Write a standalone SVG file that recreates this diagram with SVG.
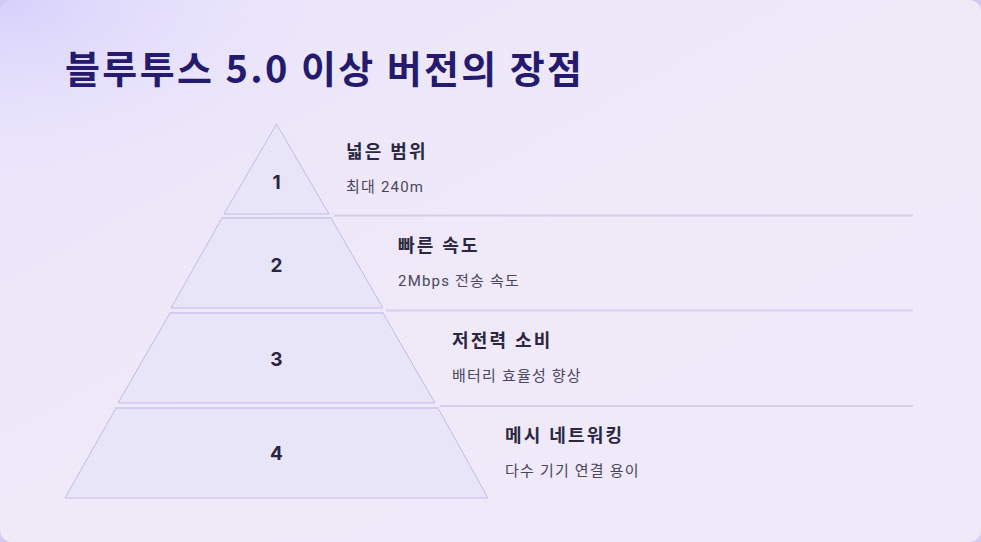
<svg xmlns="http://www.w3.org/2000/svg" width="981" height="542" viewBox="0 0 981 542">
<style>
.title{font-family:"Noto Sans CJK KR","Noto Sans",sans-serif;font-weight:700;font-size:38px;letter-spacing:2.4px;fill:#251b6e}
.tier{fill:#e8e5f8;stroke:#c3bde6;stroke-width:1}
.topline{stroke:#d4ccee;stroke-width:2}
.sep{stroke:#d6cef0;stroke-width:2}
.num{font-family:"Inter","Noto Sans",sans-serif;font-weight:700;font-size:19px;fill:#2a2542;text-anchor:middle}
.head{font-family:"Roboto","Noto Sans CJK KR",sans-serif;font-weight:700;font-size:18px;letter-spacing:2.2px;fill:#2b2740}
.sub{font-family:"Roboto","Noto Sans CJK KR",sans-serif;font-size:15px;letter-spacing:1.2px;fill:#4a4660}
</style>
<defs>
<linearGradient id="bg" x1="0" y1="0" x2="1" y2="1">
<stop offset="0" stop-color="#e9e4fc"/>
<stop offset="0.5" stop-color="#f0e9f8"/>
<stop offset="1" stop-color="#efe9fa"/>
</linearGradient>
<radialGradient id="glow" cx="0" cy="0" r="0.35" gradientUnits="objectBoundingBox">
<stop offset="0" stop-color="#d7d0fc" stop-opacity="1"/>
<stop offset="1" stop-color="#e9e4fc" stop-opacity="0"/>
</radialGradient>
</defs>
<rect width="981" height="542" fill="#d3caf4"/>
<rect x="0" y="0" width="981" height="542" rx="12" fill="url(#bg)"/>
<rect x="0" y="0" width="981" height="542" rx="12" fill="url(#glow)"/>
<text class="title" x="65" y="83">블루투스 5.0 이상 버전의 장점</text>
<g id="connectors">
<line class="sep" x1="334" y1="215.5" x2="913" y2="215.5"/>
<line class="sep" x1="386" y1="310.5" x2="913" y2="310.5"/>
<line class="sep" x1="440" y1="406" x2="913" y2="406"/>
</g>
<g id="tier1">
<polygon class="tier" points="276.5,124 329,214 224,214"/>
<text class="num" x="276.5" y="189">1</text>
<text class="head" x="346" y="158">넓은 범위</text>
<text class="sub" x="346" y="192">최대 240m</text>
</g>
<g id="tier2">
<polygon class="tier" points="222,218 331,218 383,308 171,308"/>
<line class="topline" x1="221" y1="218" x2="332" y2="218"/>
<text class="num" x="276.5" y="272">2</text>
<text class="head" x="398" y="252">빠른 속도</text>
<text class="sub" x="398" y="286">2Mbps 전송 속도</text>
</g>
<g id="tier3">
<polygon class="tier" points="170,313 383,313 435,403 118,403"/>
<line class="topline" x1="169" y1="313" x2="384" y2="313"/>
<text class="num" x="276.5" y="366">3</text>
<text class="head" x="452" y="347">저전력 소비</text>
<text class="sub" x="452" y="381">배터리 효율성 향상</text>
</g>
<g id="tier4">
<polygon class="tier" points="116,408 438,408 488,498 65,498"/>
<line class="topline" x1="115" y1="408" x2="439" y2="408"/>
<text class="num" x="276.5" y="460">4</text>
<text class="head" x="505" y="442">메시 네트워킹</text>
<text class="sub" x="505" y="476">다수 기기 연결 용이</text>
</g>
</svg>
